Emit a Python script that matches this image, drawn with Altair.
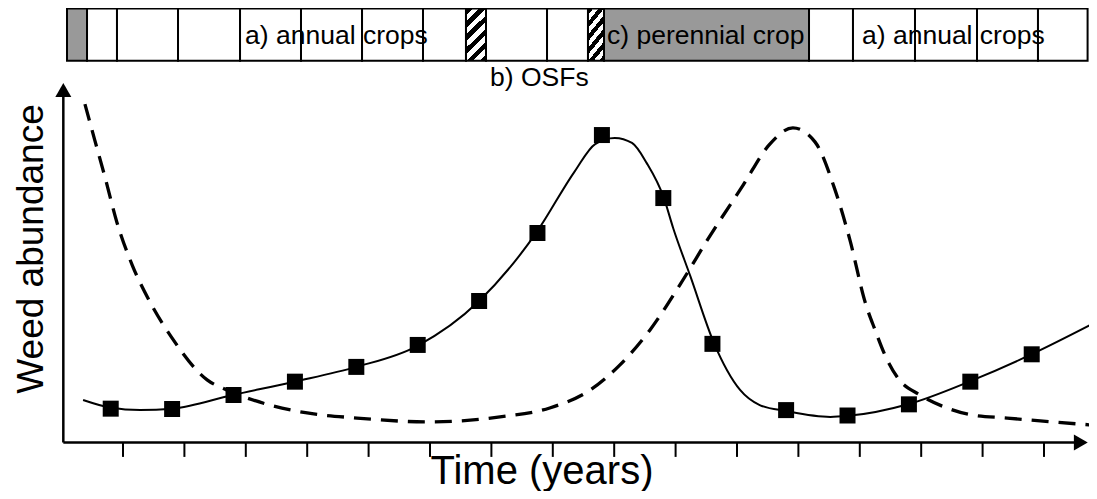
import altair as alt
import pandas as pd

# ---------------- data (time in years, abundance in relative units) ----------------
marker_years = [0.8, 1.8, 2.8, 3.8, 4.8, 5.8, 6.8, 7.75, 8.8, 9.8, 10.6, 11.8, 12.8, 13.8, 14.8, 15.8]
marker_abund = [9.4, 9.3, 13.2, 16.9, 21.0, 27.1, 39.3, 58.2, 85.4, 67.9, 27.4, 9.0, 7.5, 10.6, 16.9, 24.5]

solid_years = [0.35, 0.79, 1.28, 1.80, 2.79, 3.79, 4.80, 5.79, 6.80, 7.74, 8.36, 8.69, 9.01, 9.29,
               9.53, 9.81, 9.96, 10.24, 10.63, 11.05, 11.37, 11.80, 12.52, 12.81, 13.80, 14.81, 15.81, 16.75]
solid_abund = [11.8, 9.7, 9.0, 9.4, 13.2, 16.9, 21.0, 26.8, 39.3, 58.5, 75.4, 82.9, 84.6, 83.2,
               77.6, 67.9, 59.6, 46.2, 27.4, 14.6, 10.4, 8.75, 7.1, 7.4, 10.7, 17.1, 24.6, 32.6]

dashed_years = [0.38, 0.54, 0.71, 0.90, 1.15, 1.44, 1.80, 2.37, 2.69, 3.35, 4.00, 4.81, 6.00, 7.14,
                7.95, 8.61, 9.09, 9.58, 10.07, 10.56, 11.10, 11.52, 11.91, 12.27, 12.58, 12.84, 13.09,
                13.25, 13.41, 13.62, 13.98, 14.42, 14.84, 15.40, 15.94, 16.75]
dashed_abund = [94.0, 84.0, 73.5, 61.2, 49.3, 39.0, 29.0, 17.4, 14.6, 10.6, 8.2, 6.8, 5.7, 7.1,
                9.6, 14.6, 21.5, 31.2, 43.8, 57.4, 71.5, 82.6, 87.4, 83.5, 71.0, 56.2, 38.8,
                31.2, 24.3, 17.9, 13.2, 9.6, 7.6, 6.8, 6.0, 4.9]

tick_years = list(range(1, 17))

# land-use strip (periods along the time axis)
strip_start = [0.088, 0.414, 0.902, 1.896, 2.906, 3.899, 4.893, 5.886, 6.586, 6.912, 7.906, 8.573,
               8.834, 12.173, 12.889, 13.899, 14.909, 15.902]
strip_end = [0.414, 0.902, 1.896, 2.906, 3.899, 4.893, 5.886, 6.586, 6.912, 7.906, 8.573, 8.834,
             12.173, 12.889, 13.899, 14.909, 15.902, 16.71]
strip_kind = ["perennial", "annual", "annual", "annual", "annual", "annual", "annual", "annual",
              "osf", "annual", "annual", "osf", "perennial", "annual", "annual", "annual",
              "annual", "annual"]
STRIP_TOP = 120.56
STRIP_BOTTOM = 106.06

strip_labels = ["a) annual crops", "c) perennial crop", "a) annual crops", "b) OSFs"]
strip_label_t = [2.988, 8.883, 13.036, 6.977]
strip_label_v = [110.7, 110.7, 110.7, 99.0]

X_TITLE = "Time (years)"
Y_TITLE = "Weed abundance"

# ---------------- scales ----------------
xs = alt.Scale(domain=[-0.873, 16.733], nice=False, zero=False)
ys = alt.Scale(domain=[-13.47, 120.69], nice=False, zero=False)
FONT = "Liberation Sans"


def X(f="t"):
    return alt.X(f"{f}:Q", scale=xs, axis=None)


def Y(f="v"):
    return alt.Y(f"{f}:Q", scale=ys, axis=None)


strip = pd.DataFrame({"s": strip_start, "e": strip_end, "kind": strip_kind,
                      "top": STRIP_TOP, "bottom": STRIP_BOTTOM})

plain_cells = alt.Chart(strip).transform_filter(alt.datum.kind != "osf").mark_rect(
    stroke="black", strokeWidth=2
).encode(
    x=X("s"), x2="e", y=Y("top"), y2="bottom",
    color=alt.Color("kind:N", scale=alt.Scale(domain=["annual", "perennial"],
                                               range=["white", "#999999"]), legend=None),
)

stops = []
n = 24
for i in range(n):
    c = "black" if i % 2 == 0 else "white"
    stops.append(alt.GradientStop(color=c, offset=i / n))
    stops.append(alt.GradientStop(color=c, offset=(i + 1) / n - 1e-4))
hatch = alt.Gradient(gradient="linear", stops=stops, x1=0, y1=0, x2=1, y2=2.65)

osf_cells = alt.Chart(strip).transform_filter(alt.datum.kind == "osf").mark_rect(
    stroke="black", strokeWidth=2, fill=hatch
).encode(x=X("s"), x2="e", y=Y("top"), y2="bottom")

lab = pd.DataFrame({"t": strip_label_t, "v": strip_label_v, "label": strip_labels})
strip_text = alt.Chart(lab).mark_text(
    align="left", baseline="alphabetic", fontSize=26.5, font=FONT, color="black"
).encode(x=X(), y=Y(), text="label:N")

axes_df = pd.DataFrame({"t": [0.028, 0.028], "v": [0, 0], "t2": [0.028, 16.5], "v2": [96.5, 0]})
axes = alt.Chart(axes_df).mark_rule(color="black", strokeWidth=2.5).encode(
    x=X(), y=Y(), x2="t2", y2="v2")

ticks_df = pd.DataFrame({"t": tick_years, "v": 0.0, "v2": -4.0})
ticks = alt.Chart(ticks_df).mark_rule(color="black", strokeWidth=2).encode(
    x=X(), y=Y(), y2="v2")

arrow_up = alt.Chart(pd.DataFrame({"t": [0.028], "v": [97.9]})).mark_point(
    shape="triangle-up", size=256, filled=True, color="black", opacity=1
).encode(x=X(), y=Y())
arrow_right = alt.Chart(pd.DataFrame({"t": [16.6], "v": [0.0]})).mark_point(
    shape="triangle-right", size=256, filled=True, color="black", opacity=1
).encode(x=X(), y=Y())

dashed = alt.Chart(pd.DataFrame({"t": dashed_years, "v": dashed_abund})).mark_line(
    color="black", strokeWidth=3.3, strokeDash=[17, 10], interpolate="monotone"
).encode(x=X(), y=Y())

solid = alt.Chart(pd.DataFrame({"t": solid_years, "v": solid_abund})).mark_line(
    color="black", strokeWidth=2, interpolate="monotone"
).encode(x=X(), y=Y())

markers = alt.Chart(pd.DataFrame({"t": marker_years, "v": marker_abund})).mark_square(
    size=256, color="black", opacity=1
).encode(x=X(), y=Y())

xt = alt.Chart(pd.DataFrame({"t": [7.824], "v": [-11.4], "label": [X_TITLE]})).mark_text(
    align="center", baseline="alphabetic", fontSize=40, font=FONT, color="black"
).encode(x=X(), y=Y(), text="label:N")

yt = alt.Chart(pd.DataFrame({"t": [-0.303], "v": [53.75], "label": [Y_TITLE]})).mark_text(
    align="center", baseline="alphabetic", fontSize=37, font=FONT, color="black", angle=270
).encode(x=X(), y=Y(), text="label:N")

chart = alt.layer(
    plain_cells, osf_cells, strip_text, axes, ticks, arrow_up, arrow_right,
    dashed, solid, markers, xt, yt
).properties(
    width=1081, height=483, padding=0,
    autosize=alt.AutoSizeParams(type="none"),
).configure_view(strokeWidth=0)

chart.save("out.html", embed_options={"renderer": "svg", "actions": False})
